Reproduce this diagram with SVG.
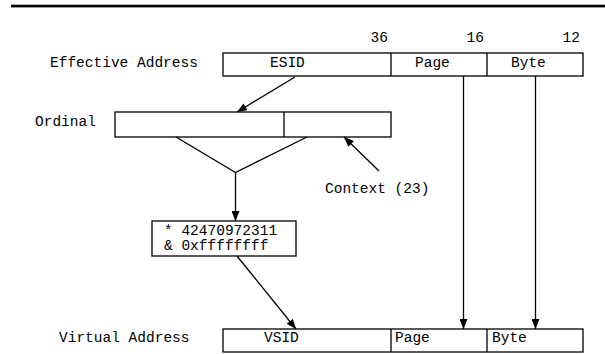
<svg xmlns="http://www.w3.org/2000/svg" width="605" height="354" viewBox="0 0 605 354">
<style>
text{font-family:"Liberation Mono","Courier New",monospace;font-size:14.5px;fill:#000}
.box{fill:#fff;stroke:#000;stroke-width:1.3}
.ln{fill:none;stroke:#000;stroke-width:1.3}
</style>
<defs>
<marker id="ah" markerWidth="10" markerHeight="8" refX="10" refY="4" orient="auto" markerUnits="userSpaceOnUse">
<path d="M0,0 L10,4 L0,8 Z" fill="#000"/>
</marker>
</defs>
<rect x="11" y="4.7" width="594" height="2.7" fill="#000"/>
<g id="bits">
<text x="388" y="42" text-anchor="end">36</text>
<text x="484" y="42" text-anchor="end">16</text>
<text x="580" y="42" text-anchor="end">12</text>
</g>
<g id="effective-address">
<text x="50" y="67">Effective Address</text>
<rect class="box" x="223" y="53" width="360" height="23"/>
<line class="ln" x1="391" y1="53" x2="391" y2="76"/>
<line class="ln" x1="487" y1="53" x2="487" y2="76"/>
<text x="270" y="67">ESID</text>
<text x="415" y="67">Page</text>
<text x="511" y="67">Byte</text>
</g>
<g id="ordinal">
<text x="35" y="126">Ordinal</text>
<rect class="box" x="115" y="112" width="276" height="25"/>
<line class="ln" x1="284" y1="112" x2="284" y2="137"/>
</g>
<g id="context">
<text x="325" y="193">Context (23)</text>
</g>
<g id="hash">
<rect class="box" x="152" y="221" width="144" height="35"/>
<text x="164" y="234.5">* 42470972311</text>
<text x="164" y="250">&amp; 0xffffffff</text>
</g>
<g id="virtual-address">
<text x="59" y="342">Virtual Address</text>
<rect class="box" x="223" y="329" width="360" height="23"/>
<line class="ln" x1="391" y1="329" x2="391" y2="352"/>
<line class="ln" x1="487" y1="329" x2="487" y2="352"/>
<text x="264" y="342">VSID</text>
<text x="395" y="342">Page</text>
<text x="492" y="342">Byte</text>
</g>
<g id="connectors">
<line class="ln" x1="295" y1="77" x2="237" y2="112" marker-end="url(#ah)"/>
<line class="ln" x1="379" y1="171" x2="344" y2="137" marker-end="url(#ah)"/>
<polyline class="ln" points="176,137 235.5,172.5 307,137"/>
<line class="ln" x1="235.5" y1="172.5" x2="235.5" y2="221" marker-end="url(#ah)"/>
<line class="ln" x1="237" y1="256" x2="296" y2="329" marker-end="url(#ah)"/>
<line class="ln" x1="463.5" y1="76" x2="463.5" y2="329" marker-end="url(#ah)"/>
<line class="ln" x1="535.5" y1="76" x2="535.5" y2="329" marker-end="url(#ah)"/>
</g>
</svg>
